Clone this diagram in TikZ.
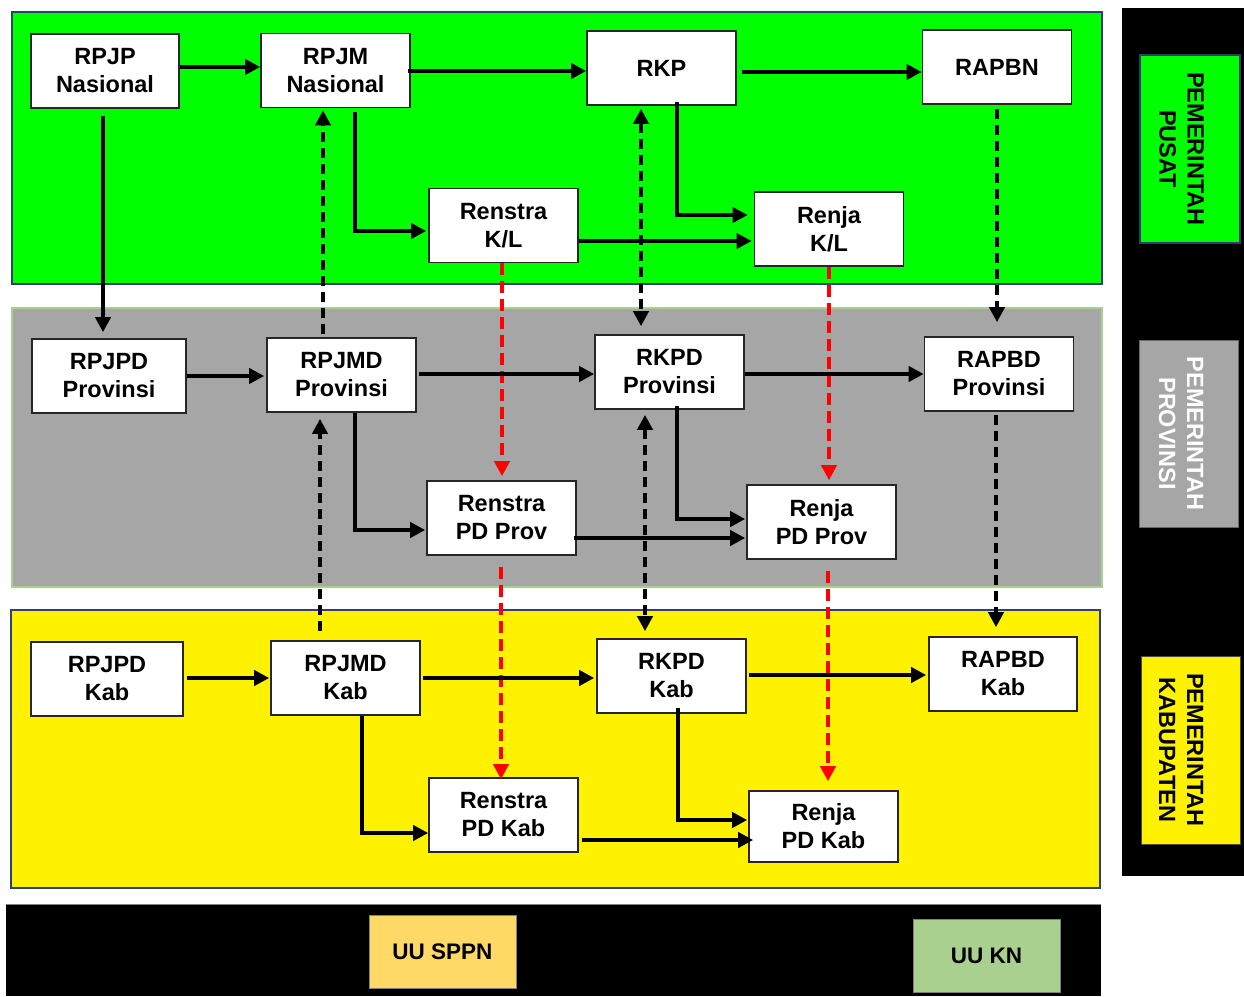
\documentclass[tikz,border=0pt]{standalone}
\usepackage{fontspec}
\setmainfont{Liberation Sans}
\usetikzlibrary{arrows.meta,calc}
\definecolor{navy}{HTML}{2F3F6F}
\definecolor{bandgray}{HTML}{A6A6A6}
\definecolor{lgreen}{HTML}{A9D18E}
\definecolor{uugold}{HTML}{FFD966}
\definecolor{uugreen}{HTML}{A9D08E}
\tikzset{
  box/.style={draw=black!85, line width=1.6pt, fill=white, minimum width=149pt, minimum height=74pt,
    inner sep=0pt, align=center, font=\fontsize{23.5}{28}\selectfont\bfseries},
  arr/.style={line width=3.8pt, -{Triangle[length=15pt,width=15pt]}},
  darr/.style={arr, dash pattern=on 10pt off 6pt},
  ddarr/.style={line width=3.8pt, dash pattern=on 10pt off 6pt, {Triangle[length=15pt,width=15pt]}-{Triangle[length=15pt,width=15pt]}},
  rarr/.style={line width=4.3pt, red, dash pattern=on 12pt off 6pt, -{Triangle[length=15pt,width=15pt]}},
  lab/.style={rotate=-90, inner sep=0pt, align=center,
    font=\fontsize{23.5}{28}\selectfont\bfseries},
  uu/.style={minimum width=147pt, minimum height=73pt, inner sep=0pt, font=\fontsize{22.5}{26}\selectfont\bfseries}
}
\begin{document}
\begin{tikzpicture}[x=1pt,y=-1pt]
\useasboundingbox (0,0) rectangle (1244,996);
\fill[white] (0,0) rectangle (1244,996);
% bands
\draw[navy, line width=2pt, fill=green] (12,12) rectangle (1102,284);
\draw[lgreen, line width=2pt, fill=bandgray] (12,308) rectangle (1102,587);
\draw[navy, line width=2pt, fill=yellow] (11,610) rectangle (1100,888);
\fill[black] (1122,8) rectangle (1244,876);
\fill[black] (6,904) rectangle (1101,996);
\draw[gray, line width=1pt] (6,904) -- (1101,904);
% side labels
\draw[navy, line width=2pt, fill=green] (1140,55) rectangle (1240,243);
\node[lab] (lp) at (1181.5,149) {PEMERINTAH\\PUSAT};
\draw[black!60, line width=1pt, fill=bandgray] (1139,340) rectangle (1238,527);
\node[lab, text=white] (lv) at (1181,433.5) {PEMERINTAH\\PROVINSI};
\draw[black!70, line width=1pt, fill=yellow] (1141,656) rectangle (1240,844);
\node[lab] (lk) at (1181,750) {PEMERINTAH\\KABUPATEN};
% UU
\node[uu, fill=uugold, draw=black!50] (uus) at (442.5,951.5) {UU SPPN};
\node[uu, fill=uugreen, draw=black!50] (uuk) at (986.5,956) {UU KN};
% nodes
\node[box, minimum width=148pt] (RPJPN) at (105,71) {RPJP\\Nasional};
\node[box] (RPJMN) at (335.5,70.5) {RPJM\\Nasional};
\node[box] (RKP) at (661.5,68) {RKP};
\node[box] (RAPBN) at (997,67) {RAPBN};
\node[box] (RenstraKL) at (503.5,225.5) {Renstra\\K/L};
\node[box] (RenjaKL) at (829,229) {Renja\\K/L};
\node[box, minimum width=154pt] (RPJPDP) at (109,376) {RPJPD\\Provinsi};
\node[box] (RPJMDP) at (341.5,375) {RPJMD\\Provinsi};
\node[box] (RKPDP) at (669.5,372) {RKPD\\Provinsi};
\node[box] (RAPBDP) at (999,374) {RAPBD\\Provinsi};
\node[box] (RenstraP) at (501.5,518) {Renstra\\PD Prov};
\node[box] (RenjaP) at (821.5,522) {Renja\\PD Prov};
\node[box, minimum width=152pt] (RPJPDK) at (107,679) {RPJPD\\Kab};
\node[box] (RPJMDK) at (345.5,678) {RPJMD\\Kab};
\node[box] (RKPDK) at (671.5,676) {RKPD\\Kab};
\node[box, minimum width=148pt] (RAPBDK) at (1003,674) {RAPBD\\Kab};
\node[box] (RenstraK) at (503.5,815) {Renstra\\PD Kab};
\node[box, minimum height=71pt] (RenjaK) at (823.5,826.5) {Renja\\PD Kab};
% top row
\draw[arr] ($(RPJPN.east)+(0,-4)$) coordinate (a1) -- (a1 -| RPJMN.west);
\draw[arr, shorten <=-3pt] ($(RPJMN.east)+(0,0.5)$) coordinate (a2) -- (a2 -| RKP.west);
\draw[arr, shorten <=5pt] ($(RKP.east)+(0,4)$) coordinate (a3) -- (a3 -| RAPBN.west);
\draw[arr, shorten <=7pt, shorten >=6pt] ($(RPJPN.south)+(-2,0)$) coordinate (a4) -- (a4 |- RPJPDP.north);
\draw[arr, shorten >=2pt] ($(RPJMN.south)+(19.5,4)$) |- ($(RenstraKL.west)+(0,5.5)$);
\draw[arr, shorten >=6pt] ($(RKP.south)+(15.5,-4)$) |- ($(RenjaKL.west)+(0,-14)$);
\draw[arr, shorten >=2pt] ($(RenstraKL.east)+(0,15.5)$) coordinate (a7) -- (a7 -| RenjaKL.west);
\draw[darr, shorten >=2pt] ($(RPJMDP.north)+(-18.5,-3)$) coordinate (a8) -- (a8 |- RPJMN.south);
\draw[ddarr, shorten <=3pt, shorten >=8pt] ($(RKP.south)+(-20.5,0)$) coordinate (a9) -- (a9 |- RKPDP.north);
\draw[darr, shorten <=4pt, shorten >=14pt] (RAPBN.south) -- (RAPBN.south |- RAPBDP.north);
\draw[rarr, shorten >=4pt] ($(RenstraKL.south)+(-1.5,0)$) coordinate (a11) -- (a11 |- RenstraP.north);
\draw[rarr, shorten >=4pt] (RenjaKL.south) -- (RenjaKL.south |- RenjaP.north);
% gray row
\draw[arr, shorten >=2pt] (RPJPDP.east) -- (RPJPDP.east -| RPJMDP.west);
\draw[arr, shorten <=2pt] ($(RPJMDP.east)+(0,-1)$) coordinate (b2) -- (b2 -| RKPDP.west);
\draw[arr] ($(RKPDP.east)+(0,2)$) coordinate (b3) -- (b3 -| RAPBDP.west);
\draw[arr, shorten >=1pt] ($(RPJMDP.south)+(13.5,0)$) |- ($(RenstraP.west)+(0,12)$);
\draw[arr, shorten >=1pt] ($(RKPDP.south)+(7.5,-4)$) |- ($(RenjaP.west)+(0,-3)$);
\draw[arr, shorten <=-3pt, shorten >=1pt] ($(RenstraP.east)+(0,20)$) coordinate (b6) -- (b6 -| RenjaP.west);
\draw[darr, shorten <=9pt, shorten >=6pt] ($(RPJMDK.north)+(-25.5,0)$) coordinate (b7) -- (b7 |- RPJMDP.south);
\draw[ddarr, shorten <=5pt, shorten >=7pt] ($(RKPDP.south)+(-24.5,0)$) coordinate (b8) -- (b8 |- RKPDK.north);
\draw[darr, shorten <=3pt, shorten >=9pt] ($(RAPBDP.south)+(-3,0)$) coordinate (b9) -- (b9 |- RAPBDK.north);
\draw[rarr, shorten <=11pt, shorten >=-2pt] ($(RenstraP.south)+(-0.5,0)$) coordinate (b10) -- (b10 |- RenstraK.north);
\draw[rarr, shorten <=11pt, shorten >=9pt] ($(RenjaP.south)+(6.5,0)$) coordinate (b11) -- (b11 |- RenjaK.north);
% yellow row
\draw[arr, shorten <=3pt, shorten >=1pt] ($(RPJPDK.east)+(0,-1)$) coordinate (c1) -- (c1 -| RPJMDK.west);
\draw[arr, shorten <=2pt, shorten >=2pt] (RPJMDK.east) -- (RPJMDK.east -| RKPDK.west);
\draw[arr, shorten <=2pt, shorten >=2pt] ($(RKPDK.east)+(0,-1)$) coordinate (c3) -- (c3 -| RAPBDK.west);
\draw[arr] ($(RPJMDK.south)+(16.5,0)$) |- ($(RenstraK.west)+(0,18)$);
\draw[arr, shorten >=1pt] ($(RKPDK.south)+(6.5,-6)$) |- ($(RenjaK.west)+(0,-6.5)$);
\draw[arr, shorten <=3pt, shorten >=-5pt] ($(RenstraK.east)+(0,25)$) coordinate (c6) -- (c6 -| RenjaK.west);
\end{tikzpicture}
\end{document}
